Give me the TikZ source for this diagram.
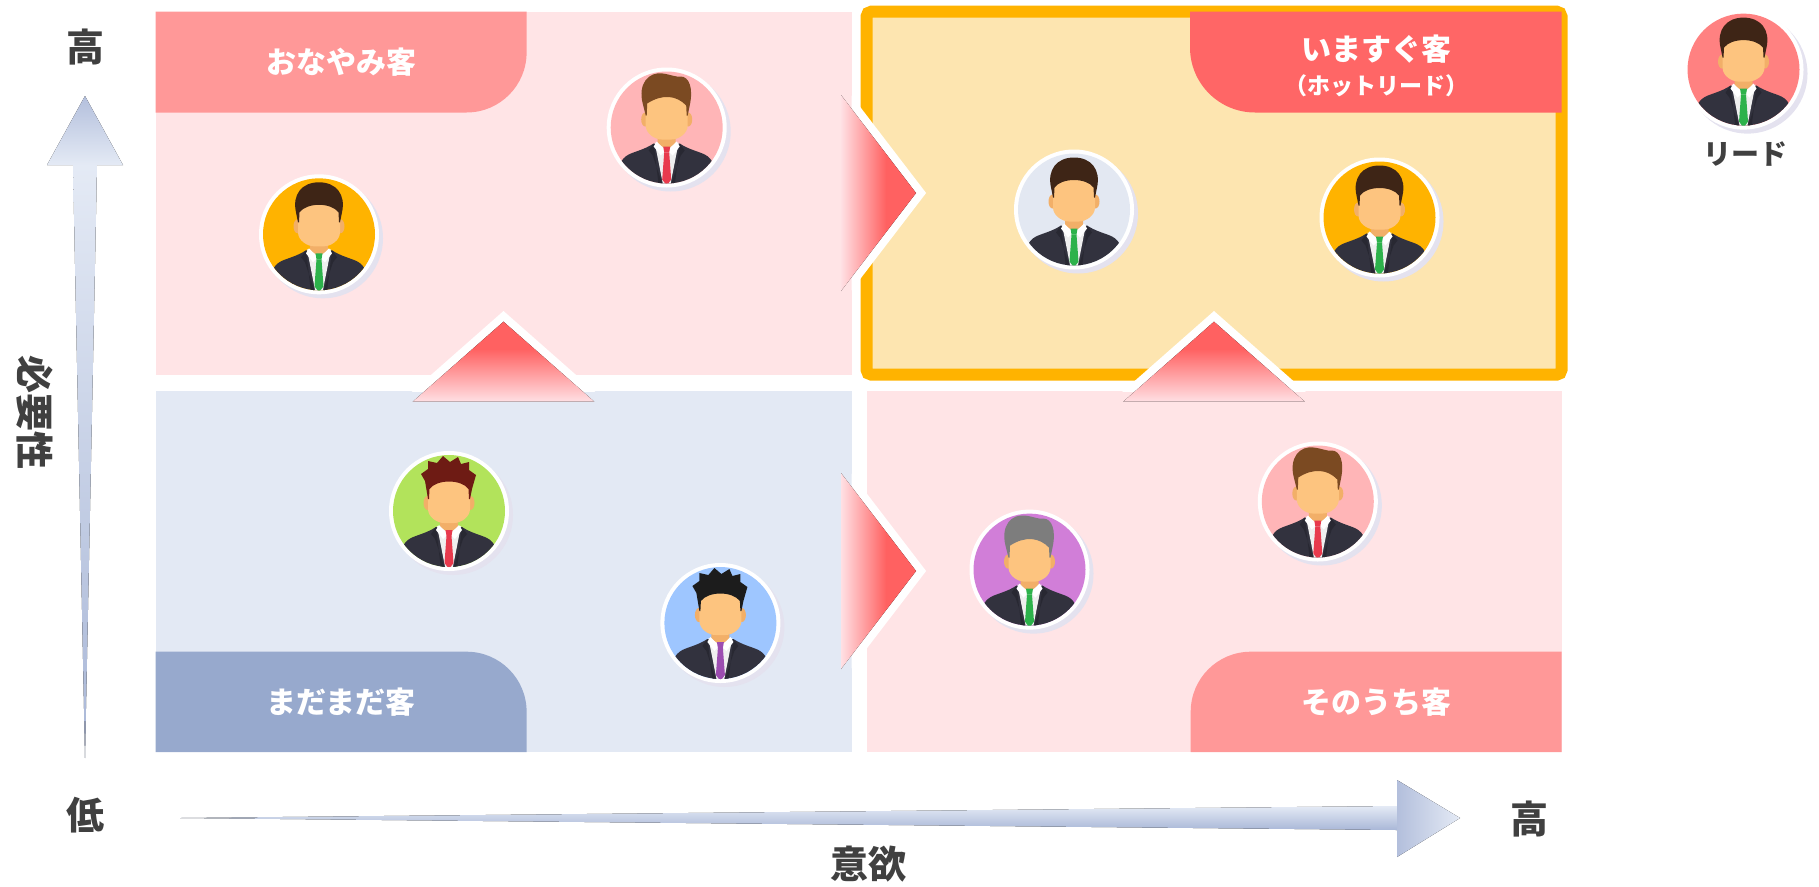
\documentclass[tikz,border=0pt]{standalone}
\usepackage{fontspec}
\setmainfont{Noto Sans CJK JP}
\usetikzlibrary{shadings}

% quadrant and label colours
\definecolor{quadpink}{HTML}{FFE4E6}
\definecolor{quadblue}{HTML}{E3E9F4}
\definecolor{quadyellow}{HTML}{FDE5B0}
\definecolor{hotborder}{HTML}{FFB300}
\definecolor{tabpink}{HTML}{FF9898}
\definecolor{tabred}{HTML}{FF6666}
\definecolor{tabblue}{HTML}{97A9CD}
\definecolor{inktext}{HTML}{404040}
% push arrows
\definecolor{pushred}{HTML}{FF6161}
\definecolor{fadepink}{HTML}{FFE0E4}
% axis arrows
\definecolor{axlight}{HTML}{E4EAF5}
\definecolor{axdark}{HTML}{A9B7D7}
\definecolor{axhead}{HTML}{B3BFDC}
% people
\definecolor{suit}{HTML}{32323E}
\definecolor{lapel}{HTML}{282832}
\definecolor{skin}{HTML}{FDC47F}
\definecolor{skinshade}{HTML}{F2AF68}
\definecolor{shirt}{HTML}{EFEFEF}
\definecolor{ringshadow}{HTML}{E4E2EF}
\definecolor{bgorange}{HTML}{FFB300}
\definecolor{bgpink}{HTML}{FFB5B7}
\definecolor{bgsteel}{HTML}{E3E8F2}
\definecolor{bglime}{HTML}{B2E35B}
\definecolor{bgsky}{HTML}{9EC6FF}
\definecolor{bgviolet}{HTML}{D17ED8}
\definecolor{bgsalmon}{HTML}{FF8181}
\definecolor{hairdark}{HTML}{3E2516}
\definecolor{hairbrown}{HTML}{7B4A22}
\definecolor{hairmaroon}{HTML}{6E1B14}
\definecolor{hairblack}{HTML}{1C1C1C}
\definecolor{hairgrey}{HTML}{7D7D7D}
\definecolor{tiegreen}{HTML}{2DB24B}
\definecolor{tiered}{HTML}{E83A4D}
\definecolor{tiepurple}{HTML}{9C4DB0}

\pgfdeclarehorizontalshading{pushright}{100bp}{color(0bp)=(fadepink); color(25bp)=(fadepink); color(55bp)=(pushred); color(100bp)=(pushred)}
\pgfdeclareverticalshading{pushup}{100bp}{color(0bp)=(fadepink); color(25bp)=(fadepink); color(58bp)=(pushred); color(100bp)=(pushred)}

\tikzset{
  tablabel/.style={text=white, font=\bfseries\fontsize{30}{36}\selectfont, inner sep=0pt},
  sublabel/.style={text=white, font=\bfseries\fontsize{23}{28}\selectfont, inner sep=0pt},
  axlabel/.style={text=inktext, font=\bfseries\fontsize{38}{44}\selectfont, inner sep=0pt},
  legendlabel/.style={text=inktext, font=\bfseries\fontsize{28}{34}\selectfont, inner sep=0pt},
  % hair shapes, drawn around the head centre (y grows downward)
  pics/hairneat/.style={code={
    \fill[#1] (-21,-12) -- (-23,-22) .. controls (-27,-40) and (-17,-52) .. (0,-52)
      .. controls (17,-52) and (27,-40) .. (23,-22) -- (21,-12) -- (20,-12) -- (19.5,-22)
      .. controls (12,-32) and (-12,-32) .. (-19.5,-22) -- (-20,-12) -- cycle;
  }},
  pics/hairquiff/.style={code={
    \fill[#1] (-21,-12) -- (-24,-24) .. controls (-29,-44) and (-18,-56) .. (-4,-54)
      .. controls (4,-53) and (10,-50) .. (14,-51) .. controls (22,-51) and (27,-40) .. (23,-22)
      -- (21,-12) -- (20,-12) -- (19.5,-22) .. controls (10,-32) and (-4,-34) .. (-19.5,-24)
      -- (-20,-12) -- cycle;
  }},
  pics/hairspiky/.style={code={
    \fill[#1] (-21,-12) -- (-24,-30) -- (-28,-37) -- (-21,-42) -- (-21,-50) -- (-12,-48)
      -- (-6,-55) -- (1,-49) -- (9,-54) -- (12,-47) -- (20,-49) -- (20,-41) -- (27,-36)
      -- (23,-22) -- (21,-12) -- (20,-12) -- (19.5,-22) .. controls (12,-32) and (-12,-32) .. (-19.5,-22)
      -- (-20,-12) -- cycle;
  }},
  % round portrait: background, hair colour, tie colour, hair style
  pics/person/.style n args={4}{code={
    \fill[ringshadow] (4,4) circle (60);
    \fill[white] (0,0) circle (60);
    \fill[#1] (0,0) circle (56);
    \begin{scope}
      \clip (0,0) circle (56);
      \fill[suit] (-13,16) .. controls (-22,22) and (-32,24) .. (-38,27)
        .. controls (-46,31) and (-50,40) .. (-52,60) -- (52,60)
        .. controls (50,40) and (46,31) .. (38,27) .. controls (32,24) and (22,22) .. (13,16) -- cycle;
      \fill[lapel] (-13,16) -- (-18,23) -- (-14,28) -- (-4,58) -- (-8,58) -- cycle;
      \fill[lapel] (13,16) -- (18,23) -- (14,28) -- (4,58) -- (8,58) -- cycle;
      \fill[shirt] (-12,15) -- (12,15) -- (3.5,58) -- (-3.5,58) -- cycle;
      \fill[skinshade] (-9,0) -- (9,0) -- (9,16) -- (0,22) -- (-9,16) -- cycle;
      \fill[white] (-10,14) -- (-1,23) -- (-6,28) -- (-13,19) -- cycle;
      \fill[white] (10,14) -- (1,23) -- (6,28) -- (13,19) -- cycle;
      \fill[#3] (-3.5,19) -- (3.5,19) -- (2.5,25) -- (-2.5,25) -- cycle;
      \fill[#3] (-2.5,25) -- (2.5,25) -- (4.5,52) -- (0,58) -- (-4.5,52) -- cycle;
      \fill[skinshade] (-21.5,-8) ellipse (4 and 7);
      \fill[skinshade] (21.5,-8) ellipse (4 and 7);
      \fill[skin] (-21,-34) -- (21,-34) -- (21,-2) .. controls (21,6) and (12,12) .. (5,12)
        -- (-5,12) .. controls (-12,12) and (-21,6) .. (-21,-2) -- cycle;
      \pic {hair#4=#2};
    \end{scope}
  }}
}

\begin{document}
\begin{tikzpicture}[x=1pt, y=-1pt]
\useasboundingbox (0,0) rectangle (1819,886);

% quadrants
\fill[quadpink] (155.5,11.6) rectangle (851.5,374.7);
\fill[quadblue] (155.5,391) rectangle (851.5,752);
\fill[quadpink] (866.5,391) rectangle (1561.5,752);
\draw[line width=12pt, draw=hotborder, fill=quadyellow, rounded corners=5pt]
  (866.5,11.6) rectangle (1561.5,374.7);

% quadrant tabs
\fill[tabpink] (155.5,11.6) -- (526.6,11.6) -- (526.6,52.5)
  .. controls (526.6,85.6) and (499.7,112.5) .. (466.6,112.5) -- (155.5,112.5) -- cycle;
\fill[tabred] (1561.5,11.6) -- (1561.5,112.5) -- (1255,112.5)
  .. controls (1219.1,112.5) and (1190,83.4) .. (1190,47.5) -- (1190,11.6) -- cycle;
\fill[tabblue] (155.5,752) -- (155.5,651.7) -- (466.6,651.7)
  .. controls (499.7,651.7) and (526.6,678.6) .. (526.6,711.7) -- (526.6,752) -- cycle;
\fill[tabpink] (1561.5,752) -- (1561.5,651.7) -- (1250.7,651.7)
  .. controls (1217.6,651.7) and (1190.7,678.6) .. (1190.7,711.7) -- (1190.7,752) -- cycle;

\node[tablabel] (worry) at (341,62) {おなやみ客};
\node[tablabel] (now) at (1376,49) {いますぐ客};
\node[sublabel] (hotlead) at (1376,86) {（ホットリード）};
\node[tablabel] (notyet) at (341,702) {まだまだ客};
\node[tablabel] (someday) at (1376,702) {そのうち客};

% push arrows to the right
\foreach \cy in {193,571} {
  \begin{scope}
    \clip (851.5,0) rectangle (1000,886);
    \fill[white] (841,\cy-111.1) -- (926.1,\cy) -- (841,\cy+111.1) -- cycle;
  \end{scope}
  \fill[shading=pushright] (841,\cy-98) -- (916,\cy) -- (841,\cy+98) -- cycle;
}
% push arrows upward
\foreach \cx in {503.5,1214} {
  \begin{scope}
    \clip (0,0) rectangle (1819,391);
    \fill[white] (\cx-102.9,401.7) -- (\cx,311) -- (\cx+102.9,401.7) -- cycle;
  \end{scope}
  \fill[shading=pushup] (\cx-90.8,401.7) -- (\cx,321.7) -- (\cx+90.8,401.7) -- cycle;
}

% people
\pic (p1) at (319,234.3) {person={bgorange}{hairdark}{tiegreen}{neat}};
\pic (p2) at (666.7,127.5) {person={bgpink}{hairbrown}{tiered}{quiff}};
\pic (p3) at (1074,209.5) {person={bgsteel}{hairdark}{tiegreen}{neat}};
\pic (p4) at (1379.5,217.5) {person={bgorange}{hairdark}{tiegreen}{neat}};
\pic (p5) at (449,511) {person={bglime}{hairmaroon}{tiered}{spiky}};
\pic (p6) at (720.4,623) {person={bgsky}{hairblack}{tiepurple}{spiky}};
\pic (p7) at (1029.5,569.6) {person={bgviolet}{hairgrey}{tiegreen}{quiff}};
\pic (p8) at (1317.8,501.5) {person={bgpink}{hairbrown}{tiered}{quiff}};
\pic (legend) at (1743.5,69.6) {person={bgsalmon}{hairdark}{tiegreen}{neat}};
\node[legendlabel] (leadname) at (1745,154) {リード};

% axes: darker head tip, shafts light near the head and deeper further down
\fill[top color=axhead, bottom color=axlight] (85,96) -- (123,165) -- (47,165) -- cycle;
\fill[top color=axlight, bottom color=axdark] (73,165) -- (97,165) -- (85,758) -- cycle;
\fill[top color=axlight, bottom color=axdark] (180,818) -- (1397,806) -- (1397,830) -- cycle;
\fill[left color=axhead, right color=axlight] (1397,780) -- (1460,818) -- (1397,857) -- cycle;

\node[axlabel] (yhigh) at (85,47) {高};
\node[axlabel] (ylow) at (85,815) {低};
\node[axlabel] (xhigh) at (1529,819) {高};
\node[axlabel] (xname) at (868,864) {意欲};
\node[axlabel, rotate=-90] (yname) at (35,412) {必要性};
\end{tikzpicture}
\end{document}
